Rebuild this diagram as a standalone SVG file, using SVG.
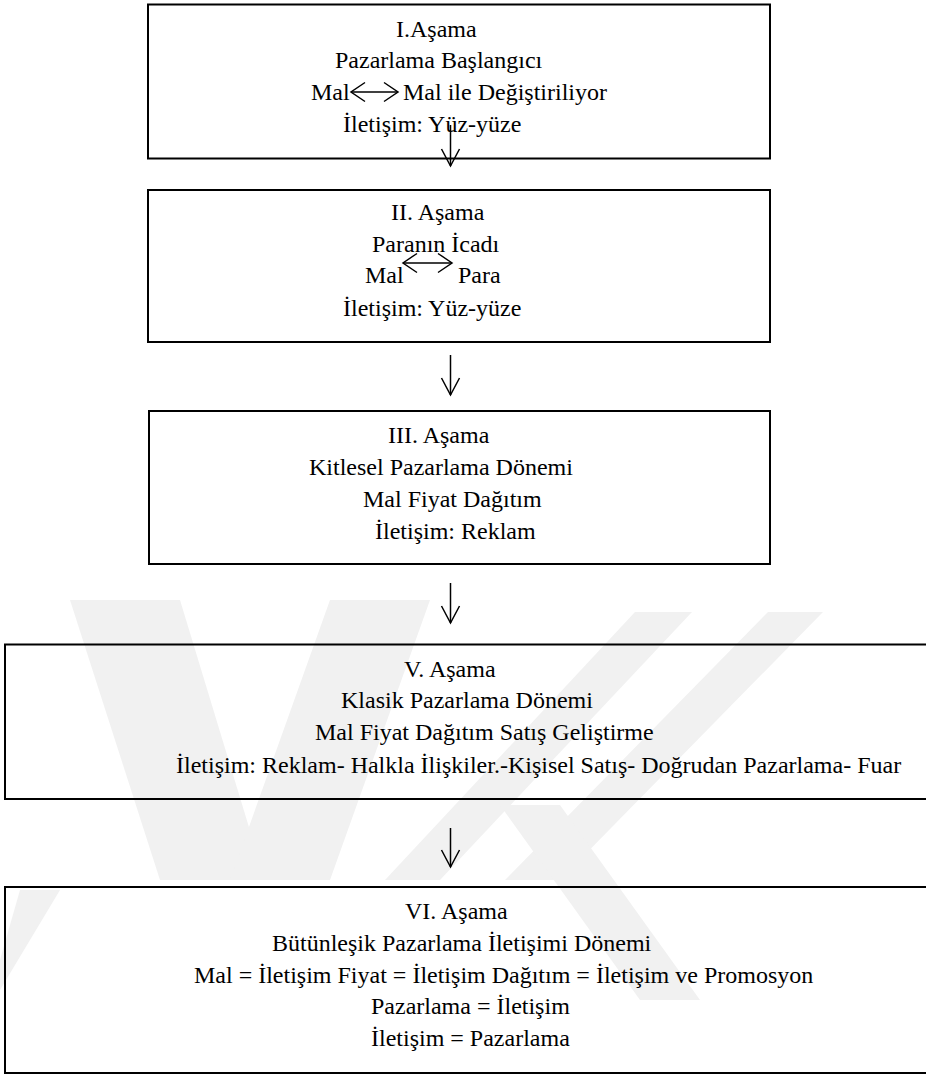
<svg xmlns="http://www.w3.org/2000/svg" width="926" height="1075" viewBox="0 0 926 1075">
  <defs>
    <style>
      .box { fill: none; stroke: #000; stroke-width: 2; }
      .t { font-family: "Liberation Serif", "Times New Roman", serif; font-size: 24px; fill: #000; }
      .conn { stroke: #000; stroke-width: 1.5; fill: none; }
      .head { stroke: #000; stroke-width: 1.5; fill: none; }
      .wm { fill: #f1f1f1; }
    </style>
  </defs>
  <rect width="926" height="1075" fill="#fff"/>

  <g id="watermark">
    <polygon class="wm" points="70,600 180,600 265,880 160,880"/>
    <polygon class="wm" points="330,600 430,600 330,880 230,880"/>
    <polygon class="wm" points="635,612 692,612 440,880 385,880"/>
    <polygon class="wm" points="768,612 823,612 560,880 505,880"/>
    <polygon class="wm" points="500,805 560,805 700,1000 640,1000"/>
    <polygon class="wm" points="20,890 60,890 0,990 0,960"/>
  </g>

  <g id="connectors">
    <line class="conn" x1="450.5" y1="125" x2="450.5" y2="166"/>
    <polyline class="head" points="441.5,149 450.5,166 459.5,149"/>
    <line class="conn" x1="450.5" y1="355" x2="450.5" y2="395"/>
    <polyline class="head" points="441.5,378 450.5,395 459.5,378"/>
    <line class="conn" x1="450.5" y1="583" x2="450.5" y2="623"/>
    <polyline class="head" points="441.5,606 450.5,623 459.5,606"/>
    <line class="conn" x1="450.5" y1="828" x2="450.5" y2="867"/>
    <polyline class="head" points="441.5,850 450.5,867 459.5,850"/>
  </g>

  <g id="node1">
    <rect class="box" x="148" y="4.5" width="622" height="154"/>
    <text class="t" x="396" y="37">I.Aşama</text>
    <text class="t" x="335" y="68">Pazarlama Başlangıcı</text>
    <text class="t" x="311" y="100">Mal</text>
    <g class="head">
      <line x1="351" y1="92" x2="398" y2="92"/>
      <polyline points="365,82.5 351,92 365,101.5"/>
      <polyline points="384,82.5 398,92 384,101.5"/>
    </g>
    <text class="t" x="403" y="100">Mal ile Değiştiriliyor</text>
    <text class="t" x="343" y="132">İletişim: Yüz-yüze</text>
  </g>

  <g id="node2">
    <rect class="box" x="148" y="190" width="622" height="152"/>
    <text class="t" x="391" y="220">II. Aşama</text>
    <text class="t" x="372" y="252">Paranın İcadı</text>
    <text class="t" x="365" y="283">Mal</text>
    <g class="head">
      <line x1="403" y1="263" x2="452" y2="263"/>
      <polyline points="417,253.5 403,263 417,272.5"/>
      <polyline points="438,253.5 452,263 438,272.5"/>
    </g>
    <text class="t" x="458" y="283">Para</text>
    <text class="t" x="343" y="316">İletişim: Yüz-yüze</text>
  </g>

  <g id="node3">
    <rect class="box" x="149" y="411" width="621" height="153"/>
    <text class="t" x="388" y="443">III. Aşama</text>
    <text class="t" x="309" y="475">Kitlesel Pazarlama Dönemi</text>
    <text class="t" x="363" y="507">Mal Fiyat Dağıtım</text>
    <text class="t" x="375" y="539">İletişim: Reklam</text>
  </g>

  <g id="node4">
    <rect class="box" x="5" y="644.5" width="930" height="154.5"/>
    <text class="t" x="404" y="677">V. Aşama</text>
    <text class="t" x="341" y="708">Klasik Pazarlama Dönemi</text>
    <text class="t" x="315" y="740">Mal Fiyat Dağıtım Satış Geliştirme</text>
    <text class="t" x="176" y="773">İletişim: Reklam- Halkla İlişkiler.-Kişisel Satış- Doğrudan Pazarlama- Fuar</text>
  </g>

  <g id="node5">
    <rect class="box" x="5" y="887" width="930" height="186"/>
    <text class="t" x="405" y="919">VI. Aşama</text>
    <text class="t" x="272" y="951">Bütünleşik Pazarlama İletişimi Dönemi</text>
    <text class="t" x="194" y="983">Mal = İletişim Fiyat = İletişim Dağıtım = İletişim ve Promosyon</text>
    <text class="t" x="371" y="1014">Pazarlama = İletişim</text>
    <text class="t" x="371" y="1046">İletişim = Pazarlama</text>
  </g>
</svg>
